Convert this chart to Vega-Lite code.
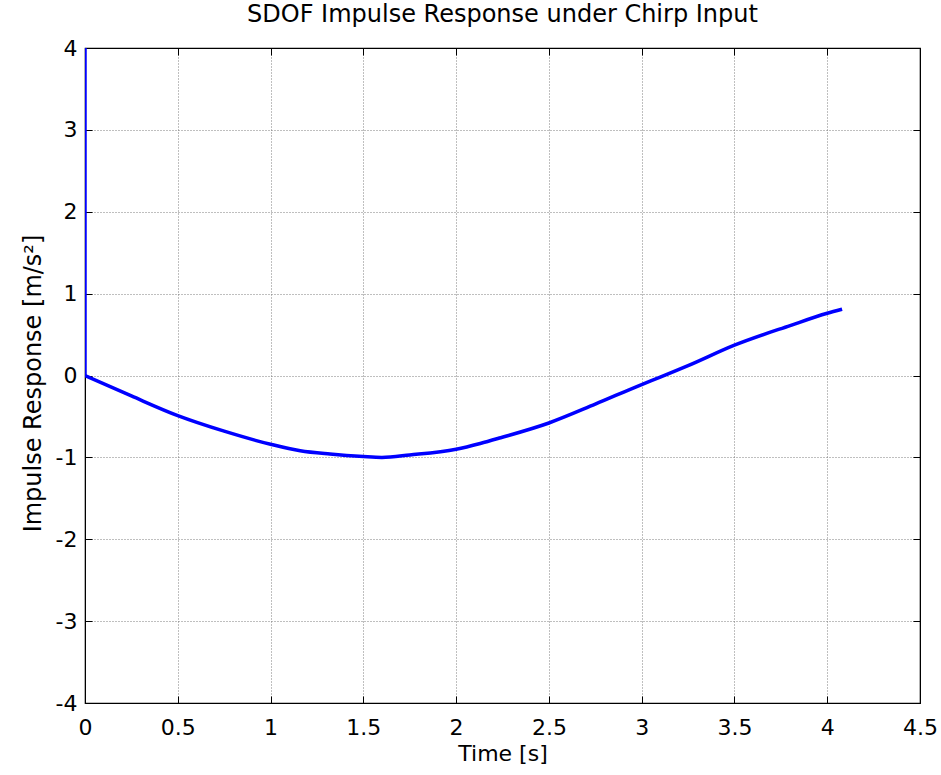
{
  "$schema": "https://vega.github.io/schema/vega-lite/v6.json",
  "width": 835,
  "height": 655,
  "autosize": {"type": "none"},
  "padding": {"left": 85, "top": 48, "right": 21, "bottom": 72},
  "background": "white",
  "title": {"text": "SDOF Impulse Response under Chirp Input", "font": "DejaVu Sans", "fontSize": 24, "fontWeight": "normal", "color": "black", "offset": 10},
  "config": {
    "view": {"stroke": "black", "strokeWidth": 1.2},
    "axis": {"labelFont": "DejaVu Sans", "titleFont": "DejaVu Sans", "labelFontSize": 22, "titleFontSize": 22, "titleFontWeight": "normal", "labelColor": "black", "titleColor": "black", "domainColor": "black", "tickColor": "black", "tickSize": -7, "gridColor": "#707070", "gridDash": [1, 2], "gridWidth": 0.9, "gridOpacity": 1}
  },
  "data": {"values": [
    {"s": "spike", "t": 0, "v": 4},
    {"s": "spike", "t": 0, "v": 0},
    {"s": "curve", "t": 0, "v": 0},
    {"s": "curve", "t": 0.25, "v": -0.25},
    {"s": "curve", "t": 0.5, "v": -0.49},
    {"s": "curve", "t": 0.75, "v": -0.68},
    {"s": "curve", "t": 1.0, "v": -0.84},
    {"s": "curve", "t": 1.16, "v": -0.92},
    {"s": "curve", "t": 1.32, "v": -0.96},
    {"s": "curve", "t": 1.5, "v": -0.99},
    {"s": "curve", "t": 1.6, "v": -1.0},
    {"s": "curve", "t": 1.75, "v": -0.97},
    {"s": "curve", "t": 2.0, "v": -0.9},
    {"s": "curve", "t": 2.13, "v": -0.83},
    {"s": "curve", "t": 2.24, "v": -0.76},
    {"s": "curve", "t": 2.5, "v": -0.58},
    {"s": "curve", "t": 2.75, "v": -0.35},
    {"s": "curve", "t": 3.0, "v": -0.11},
    {"s": "curve", "t": 3.1, "v": -0.02},
    {"s": "curve", "t": 3.25, "v": 0.12},
    {"s": "curve", "t": 3.5, "v": 0.37},
    {"s": "curve", "t": 3.8, "v": 0.61},
    {"s": "curve", "t": 4.0, "v": 0.76},
    {"s": "curve", "t": 4.08, "v": 0.81}
  ]},
  "layer": [
    {
      "mark": {"type": "line", "color": "#0000FF", "strokeWidth": 3.5, "clip": true, "interpolate": "monotone"},
      "encoding": {
        "detail": {"field": "s", "type": "nominal"},
        "x": {"field": "t", "type": "quantitative", "scale": {"domain": [0, 4.5], "nice": false, "zero": false},
              "axis": {"orient": "bottom", "values": [0, 0.5, 1, 1.5, 2, 2.5, 3, 3.5, 4, 4.5], "labelExpr": "datum.value + ''", "title": "Time [s]", "labelPadding": 21, "titlePadding": 5, "labelFlush": false}},
        "y": {"field": "v", "type": "quantitative", "scale": {"domain": [-4, 4], "nice": false, "zero": false},
              "axis": {"orient": "left", "values": [-4, -3, -2, -1, 0, 1, 2, 3, 4], "title": "Impulse Response [m/s²]", "titleFontSize": 24, "titleY": 335, "labelExpr": "datum.value + ''", "labelPadding": 15, "titlePadding": 10, "labelFlush": false}}
      }
    },
    {
      "mark": {"type": "line", "opacity": 0},
      "encoding": {
        "x": {"field": "t", "type": "quantitative", "scale": {"domain": [0, 4.5], "nice": false, "zero": false},
              "axis": {"orient": "top", "values": [0, 0.5, 1, 1.5, 2, 2.5, 3, 3.5, 4, 4.5], "labels": false, "title": null, "grid": false}},
        "y": {"field": "v", "type": "quantitative", "scale": {"domain": [-4, 4], "nice": false, "zero": false},
              "axis": {"orient": "right", "values": [-4, -3, -2, -1, 0, 1, 2, 3, 4], "labels": false, "title": null, "grid": false}}
      }
    }
  ],
  "resolve": {"axis": {"x": "independent", "y": "independent"}}
}
